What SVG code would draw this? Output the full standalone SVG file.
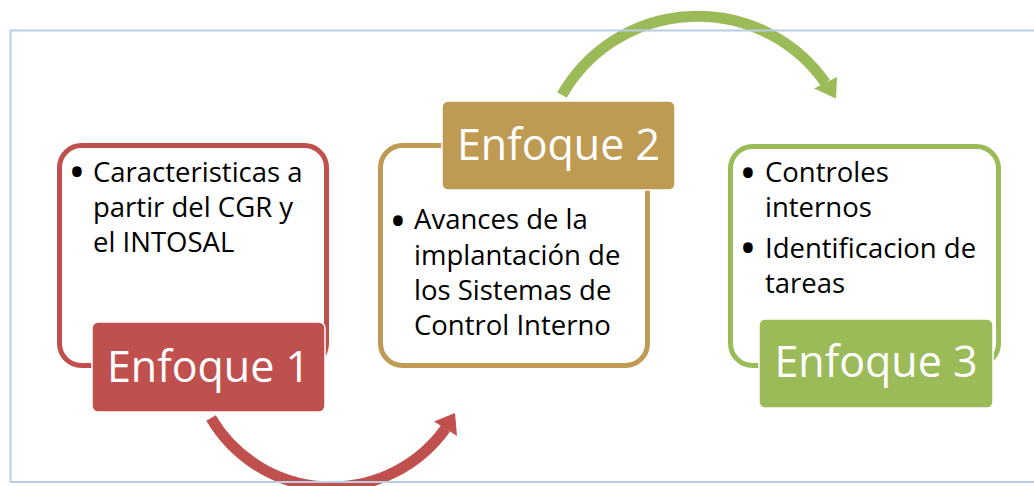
<svg xmlns="http://www.w3.org/2000/svg" width="1034" height="486" viewBox="0 0 1034 486">
<style>
.body{font-family:"Open Sans","Liberation Sans",sans-serif;font-size:27.5px;fill:#000}
.bul{font-family:"Open Sans","Liberation Sans",sans-serif;font-size:46px;fill:#000;text-anchor:middle}
.lbl{font-family:"Open Sans","Liberation Sans",sans-serif;font-size:43px;fill:#fff;text-anchor:middle}
.out{fill:#fff;stroke-width:5}
.tag{stroke:#fff;stroke-width:1.5}
</style>
<rect width="1034" height="486" fill="#fff"/>
<g id="connectors">
<path d="M 211 418 A 140 140 0 0 0 445.5 428.5" fill="none" stroke="#c0504d" stroke-width="11"/>
<polygon points="434,421.5 457,436 455,413" fill="#c0504d"/>
<path d="M 562 95 A 156 156 0 0 1 825.5 83" fill="none" stroke="#9bbb59" stroke-width="11"/>
<polygon points="814,88.5 837,77 836,98.5" fill="#9bbb59"/>
</g>
<g id="enfoque1">
<rect class="out" x="59.5" y="145.5" width="267" height="220" rx="22" stroke="#c0504d"/>
<text class="bul" x="77" y="188">•</text>
<text class="body" x="93" y="182">Caracteristicas a</text>
<text class="body" x="93" y="217">partir del CGR y</text>
<text class="body" x="93" y="252">el INTOSAL</text>
<rect class="tag" x="92" y="322" width="233" height="90" rx="6" fill="#c0504d"/>
<text class="lbl" x="208.5" y="382">Enfoque 1</text>
</g>
<g id="enfoque2">
<rect class="out" x="380.5" y="145.5" width="267" height="220" rx="22" stroke="#bf9a52"/>
<text class="bul" x="398" y="237">•</text>
<text class="body" x="414" y="229">Avances de la</text>
<text class="body" x="414" y="265">implantación de</text>
<text class="body" x="414" y="300">los Sistemas de</text>
<text class="body" x="414" y="335">Control Interno</text>
<rect class="tag" x="442" y="101" width="233" height="89" rx="6" fill="#bf9a52"/>
<text class="lbl" x="558.5" y="160">Enfoque 2</text>
</g>
<g id="enfoque3">
<rect class="out" x="730.5" y="146.5" width="268" height="219" rx="22" stroke="#9bbb59"/>
<text class="bul" x="748" y="189">•</text>
<text class="body" x="765" y="182">Controles</text>
<text class="body" x="765" y="217">internos</text>
<text class="bul" x="748" y="264">•</text>
<text class="body" x="765" y="258">Identificacion de</text>
<text class="body" x="765" y="293">tareas</text>
<rect class="tag" x="759" y="319" width="234" height="89" rx="6" fill="#9bbb59"/>
<text class="lbl" x="876" y="377">Enfoque 3</text>
</g>
<rect x="10.5" y="30.5" width="1100" height="451.5" fill="none" stroke="#b9cde5" stroke-width="2"/>
</svg>
